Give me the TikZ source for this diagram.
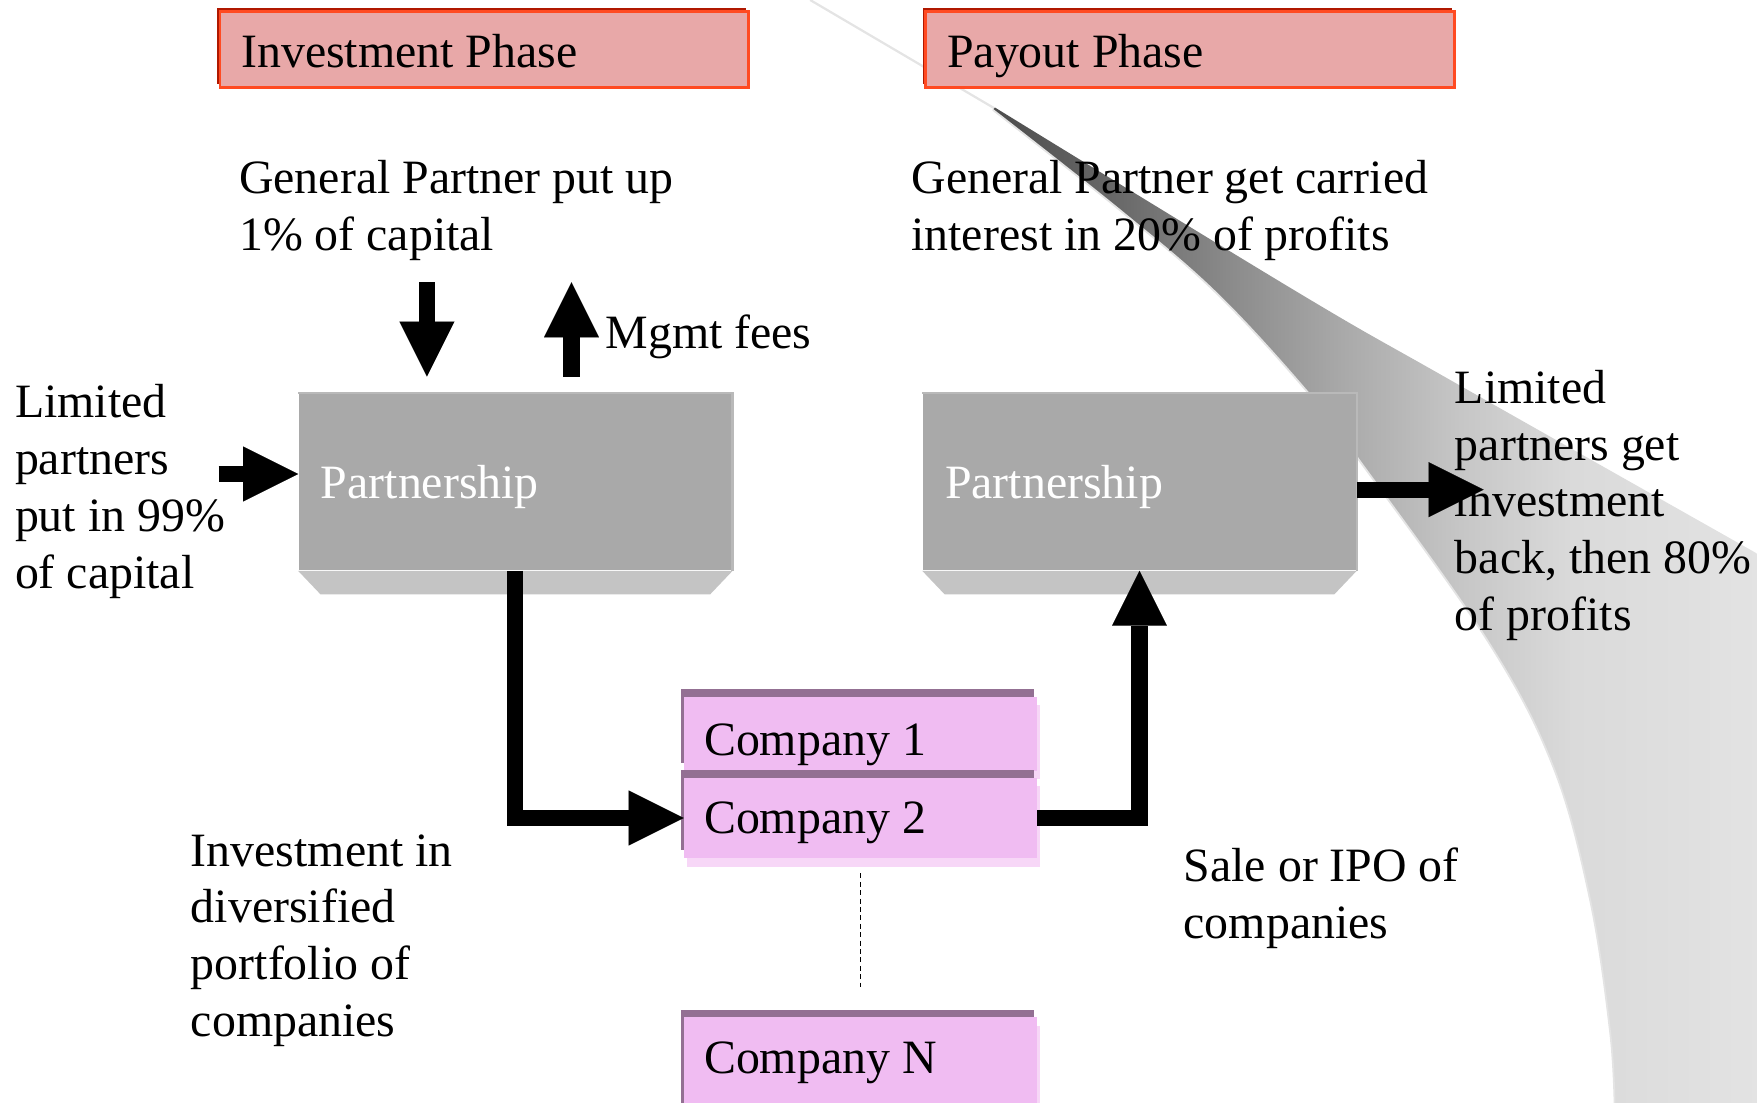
\documentclass[tikz,border=0pt]{standalone}
\usepackage{fontspec}
\setmainfont{Liberation Serif}
\usetikzlibrary{arrows.meta,shadows}
\definecolor{titlefill}{HTML}{E8A8A8}
\definecolor{titledark}{HTML}{B01800}
\definecolor{titleedge}{HTML}{FF4A22}
\definecolor{boxface}{HTML}{A9A9A9}
\definecolor{boxbevel}{HTML}{C4C4C4}
\definecolor{boxlight}{HTML}{B9B9B9}
\definecolor{compfill}{HTML}{F0BCF2}
\definecolor{compedge}{HTML}{937093}
\definecolor{compshadow}{HTML}{F7D7F7}
\definecolor{sw1}{HTML}{4C4C4C}
\definecolor{sw2}{HTML}{6A6A6A}
\definecolor{sw3}{HTML}{8C8C8C}
\definecolor{sw4}{HTML}{AAAAAA}
\definecolor{sw5}{HTML}{C6C6C6}
\definecolor{sw6}{HTML}{DADADA}
\definecolor{sw7}{HTML}{E3E3E3}
\definecolor{swline}{HTML}{E4E4E4}
\pgfdeclarehorizontalshading{swooshshade}{100bp}{color(0bp)=(sw1); color(25bp)=(sw1); color(33.4bp)=(sw2); color(40.7bp)=(sw3); color(48bp)=(sw4); color(55.4bp)=(sw5); color(62.7bp)=(sw6); color(75bp)=(sw7); color(100bp)=(sw7)}
\tikzset{
  every node/.style={font=\fontsize{21.35pt}{25.3pt}\selectfont},
  txt/.style={anchor=base west, align=left, inner sep=0pt},
  titlebox/.style={anchor=base west, fill=titlefill, draw=titleedge, line width=1.3pt,
    general shadow={fill=titledark, shadow xshift=-1.3pt, shadow yshift=1.3pt},
    inner xsep=9.5pt, inner ysep=0pt, text width=217pt, align=flush left,
    text height=25pt, text depth=9pt},
  partbox/.style={anchor=base west, fill=boxface, text=white, inner xsep=10pt, inner ysep=0pt,
    text width=173.5pt, align=flush left, text height=47pt, text depth=32pt},
  compbox/.style={anchor=base west, fill=compfill, inner xsep=9pt, inner ysep=0pt,
    text width=139.5pt, align=flush left,
    general shadow={fill=compshadow, shadow xshift=1.5pt, shadow yshift=-3.75pt},
    general shadow={fill=compedge, shadow xshift=-1.5pt, shadow yshift=3.5pt}},
  flow/.style={line width=7.25pt, line join=miter,
    -{Triangle[length=24.5pt, width=24.5pt, line width=0.01pt]}},
  dotline/.style={dash pattern=on 2.25pt off 1.5pt, line width=0.8pt}
}
\begin{document}
\begin{tikzpicture}[x=0.5pt, y=-0.5pt]
\useasboundingbox (0,0) rectangle (1568,984.3);
% swoosh background
\draw[swline, line width=1pt] (723,0) -- (888,97);
\shade[shading=swooshshade] plot[smooth, tension=0.6] coordinates {(886,98) (1000,188) (1086,262) (1167,350) (1211,408) (1327,571) (1386,684) (1419,803) (1437,922) (1441,992)}
  -- (1572,992) -- (1572,494) -- plot[smooth, tension=0.6] coordinates {(1568,494) (1294,339) (1160,262) (888,96)} -- cycle;
\draw[swline, line width=0.8pt] plot[smooth, tension=0.6] coordinates {(886,98) (1000,188) (1086,262) (1167,350) (1211,408) (1327,571) (1386,684) (1419,803) (1437,922) (1441,992)};

% titles
\node[titlebox] (invph) at (195,60) {Investment Phase};
\node[titlebox] (payph) at (825,60) {Payout Phase};

% texts (anchor at the baseline of the last line)
\node[txt] (gpput) at (213,223.6) {General Partner put up\\1\% of capital};
\node[txt] (gpget) at (813,223.6) {General Partner get carried\\interest in 20\% of profits};
\node[txt] (mgmt) at (540,311) {Mgmt fees};
\node[txt] (lpput) at (13,524.8) {Limited\\partners\\put in 99\%\\of capital};
\node[txt] (lpget) at (1298,562.4) {Limited\\partners get\\investment\\back, then 80\%\\of profits};
\node[txt] (invest) at (170,924.8) {Investment in\\diversified\\portfolio of\\companies};
\node[txt] (sale) at (1056,837.6) {Sale or IPO of\\companies};

% partnerships
\node[partbox] (lp1) at (266,445) {Partnership};
\node[partbox] (lp2) at (823,445) {Partnership};
\foreach \b in {lp1,lp2}{
  \fill[boxbevel] (\b.south west) -- (\b.south east) -- ([xshift=-10pt,yshift=-10.5pt]\b.south east)
    -- ([xshift=10pt,yshift=-10.5pt]\b.south west) -- cycle;
  \draw[boxlight, line width=1pt] (\b.north west) -- (\b.north east) -- (\b.south east);
}

% companies
\node[compbox, text height=26pt, text depth=7pt] (c1) at (610,674) {Company 1};
\node[compbox, text height=25pt, text depth=11pt] (c2) at (610,744) {Company 2};
\node[compbox, text height=25pt, text depth=19pt] (cn) at (610,958) {Company N};
\draw[dotline] ([yshift=-6.5pt]c2.south) -- ([yshift=13.5pt]cn.north);

% arrows
\coordinate (gpa) at (381,252);
\coordinate (gpb) at (381,336);
\coordinate (fea) at (510,336);
\coordinate (feb) at (510,252);
\coordinate (lpin) at (195,423);
\coordinate (lpout) at (1324,437);
\draw[flow] (gpa) -- (gpb);
\draw[flow] (fea) -- (feb);
\draw[flow] (lpin) -- (lpin -| lp1.west);
\draw[flow] (lp1.south) |- (c2.west);
\draw[flow] (c2.east) -| (lp2.south);
\draw[flow] (lpout -| lp2.east) -- (lpout);
\end{tikzpicture}
\end{document}
